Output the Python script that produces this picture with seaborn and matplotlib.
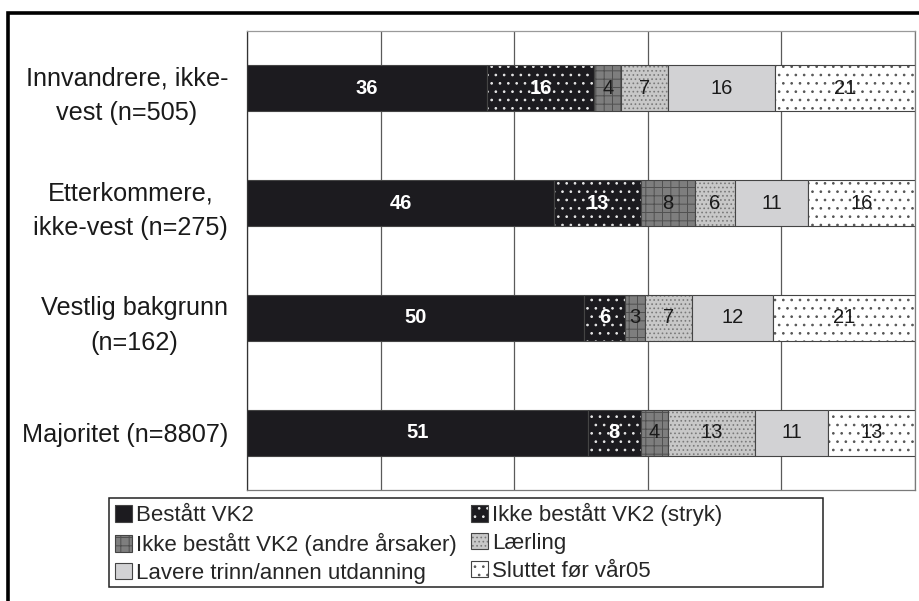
import matplotlib
matplotlib.use("Agg")
import matplotlib.pyplot as plt
from matplotlib import font_manager
from matplotlib.patches import Rectangle, Patch
from matplotlib.legend_handler import HandlerTuple
import pandas as pd
import seaborn as sns

# data (percent, rounded)
groups = [
    "Innvandrere, ikke-\nvest (n=505)",
    "Etterkommere,\nikke-vest (n=275)",
    "Vestlig bakgrunn\n(n=162)",
    "Majoritet (n=8807)",
]
categories = [
    "Bestått VK2",
    "Ikke bestått VK2 (stryk)",
    "Ikke bestått VK2 (andre årsaker)",
    "Lærling",
    "Lavere trinn/annen utdanning",
    "Sluttet før vår05",
]
bestatt = [36, 46, 50, 51]
stryk = [16, 13, 6, 8]
andre = [4, 8, 3, 4]
laerling = [7, 6, 7, 13]
lavere = [16, 11, 12, 11]
sluttet = [21, 16, 21, 13]

# face colour, hatch, hatch colour, label colour, label weight
styles = [
    ("#1c1b1f", None, "#1c1b1f", "white", "bold"),
    ("#1c1b1f", "..", "#e8e8e8", "white", "bold"),
    ("#7e7e7e", "++", "#505050", "#1a1a1a", "normal"),
    ("#c8c8c8", "....", "#7a7a7a", "#1a1a1a", "normal"),
    ("#d2d2d4", None, "#d2d2d4", "#1a1a1a", "normal"),
    ("white", "..", "#555555", "#1a1a1a", "normal"),
]
EDGE = "#444444"

sns.set_style("white")
installed = {f.name for f in font_manager.fontManager.ttflist}
base_font = "Liberation Sans" if "Liberation Sans" in installed else "DejaVu Sans"
narrow_font = "Liberation Sans Narrow" if "Liberation Sans Narrow" in installed else base_font
plt.rcParams["font.family"] = [base_font, "DejaVu Sans"]
plt.rcParams["hatch.linewidth"] = 0.7

df = pd.DataFrame(
    dict(zip(categories, [bestatt, stryk, andre, laerling, lavere, sluttet])),
    index=groups,
)
# stacked to 100 % (the source rounds, one row sums to 99)
shares = df.div(df.sum(axis=1), axis=0) * 100
lefts = shares.cumsum(axis=1) - shares

fig = plt.figure(figsize=(9.19, 6.01), dpi=100)
ax = fig.add_axes([247 / 919, 1 - 490 / 601, 668 / 919, 459 / 601])

handles = []
for cat, (face, hatch, hcol, tcol, tw) in zip(categories, styles):
    sns.barplot(x=shares[cat].values, y=groups, left=lefts[cat].values,
                orient="y", width=0.4, errorbar=None, saturation=1, color=face,
                facecolor=face, hatch=hatch, edgecolor=hcol, linewidth=0, ax=ax)
    sns.barplot(x=shares[cat].values, y=groups, left=lefts[cat].values,
                orient="y", width=0.4, errorbar=None, saturation=1, color=EDGE,
                facecolor="none", edgecolor=EDGE, linewidth=0.8, ax=ax)
    ax.bar_label(ax.containers[-1], labels=[str(v) for v in df[cat]],
                 label_type="center", color=tcol, fontsize=14.5, fontweight=tw,
                 family=[narrow_font, "DejaVu Sans"])
    handles.append((Patch(facecolor=face, hatch=hatch, edgecolor=hcol, linewidth=0),
                    Patch(facecolor="none", edgecolor=EDGE, linewidth=0.8)))

ax.set_xlim(0, 100)
ax.set_ylim(len(groups) - 0.5, -0.5)
ax.set_xticks(range(0, 101, 20))
ax.set_xticklabels([])
ax.tick_params(axis="x", length=0)
ax.grid(axis="x", color="#5a5a5a", linewidth=0.9)
ax.set_axisbelow(True)
ax.set_xlabel("")
ax.set_ylabel("")

ax.set_yticks(range(len(groups)))
ax.set_yticklabels(groups, fontsize=18.2, color="#1a1a1a", linespacing=1.55)
for t in ax.get_yticklabels():
    t.set_multialignment("center")
ax.tick_params(axis="y", which="major", length=0, pad=13.5)
ax.set_yticks([i - 0.5 for i in range(len(groups) + 1)], minor=True)
ax.tick_params(axis="y", which="minor", length=6, width=0.9, color="#333333", direction="out")

for side, col in [("left", "#333333"), ("top", "#9a9a9a"), ("right", "#7a7a7a"), ("bottom", "#7a7a7a")]:
    ax.spines[side].set_visible(True)
    ax.spines[side].set_color(col)
    ax.spines[side].set_linewidth(0.9)

order = [0, 2, 4, 1, 3, 5]
fig.legend([handles[i] for i in order], [categories[i] for i in order],
           handler_map={tuple: HandlerTuple(ndivide=1, pad=0)},
           ncol=2, loc="upper left", bbox_to_anchor=(115 / 919, 1 - 503 / 601),
           frameon=False, fontsize=16, borderpad=0, borderaxespad=0,
           handlelength=0.75, handleheight=0.75, handletextpad=0.2,
           labelspacing=0.31, columnspacing=0.64)

# legend box and outer frame as in the source figure
fig.add_artist(Rectangle((109 / 919, 1 - 587 / 601), 714 / 919, 89 / 601,
                         transform=fig.transFigure, fill=False,
                         edgecolor="#222222", linewidth=1.1))
fig.add_artist(Rectangle((8 / 919, -0.1), 1.2, 1.1 - 13 / 601,
                         transform=fig.transFigure, fill=False,
                         edgecolor="black", linewidth=2.6, clip_on=False))

fig.savefig("out.png", dpi=100)
plt.close(fig)
